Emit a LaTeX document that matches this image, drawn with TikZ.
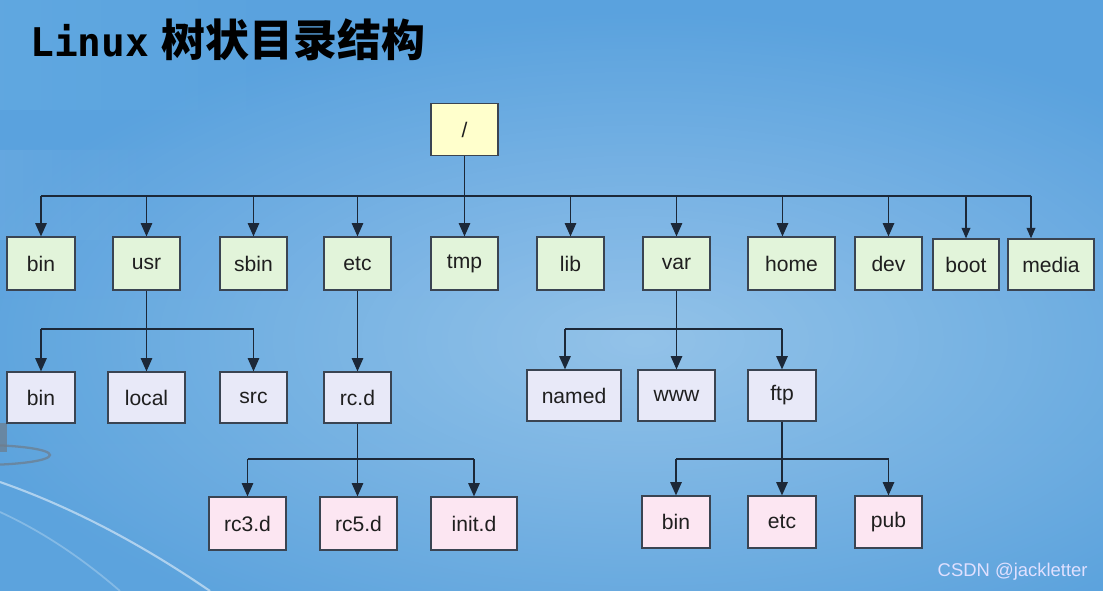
\documentclass[tikz,border=0pt]{standalone}
\usepackage{fontspec}
\setmainfont{Liberation Sans}
\newfontfamily\titlecjk{Noto Sans CJK SC}
\newfontfamily\titlemono{DejaVu Sans Mono}
\usetikzlibrary{arrows.meta,calc,fadings}
\definecolor{bgTop}{HTML}{5AA2DE}
\definecolor{bgMid}{HTML}{84C3EA}
\definecolor{bgBot}{HTML}{5CA3DD}
\definecolor{boxLine}{HTML}{3A4452}
\definecolor{linkLine}{HTML}{1C2838}
\definecolor{rootFill}{HTML}{FFFFCC}
\definecolor{topFill}{HTML}{E2F4DA}
\definecolor{midFill}{HTML}{E8E9F8}
\definecolor{lowFill}{HTML}{FCE6F2}
\definecolor{standGray}{HTML}{6E7C8A}
\tikzfading[name=softSpot, inner color=transparent!10, outer color=transparent!100]
\tikzfading[name=fadeRight, left color=transparent!20, right color=transparent!100]
\tikzset{
    boxw/.style={minimum width=#1*0.02cm},
    boxh/.style={minimum height=#1*0.02cm},
    dirBox/.style={draw=boxLine, line width=0.7pt, inner sep=0pt, boxh=53,
        text=black!88, font=\fontsize{12}{14}\selectfont},
    rootDir/.style={dirBox, fill=rootFill},
    topDir/.style={dirBox, fill=topFill},
    midDir/.style={dirBox, fill=midFill},
    lowDir/.style={dirBox, fill=lowFill},
    link/.style={draw=linkLine, line width=0.7pt},
    linkTo/.style={link, -{Triangle[width=6.5pt,length=7.5pt]}},
    linkToSmall/.style={link, -{Triangle[width=5pt,length=6pt]}}
}
\begin{document}
\begin{tikzpicture}[x=0.02cm, y=-0.02cm]
\useasboundingbox (0,0) rectangle (1103,591);
% background
\begin{scope}
    \clip (0,0) rectangle (1103,591);
    \shade[top color=bgTop, middle color=bgMid, bottom color=bgBot] (0,0) rectangle (1103,591);
    \fill[white, fill opacity=0.38, path fading=softSpot] (640,340) ellipse (700 and 330);
    \fill[cyan!40!white, fill opacity=0.12, path fading=fadeRight] (0,0) rectangle (300,110);
    \fill[white, fill opacity=0.08, path fading=fadeRight] (0,150) rectangle (150,240);
    \draw[white, opacity=0.5, line width=1.2pt] (0,482) .. controls (80,510) and (150,550) .. (210,591);
    \draw[white, opacity=0.25, line width=1pt] (0,512) .. controls (50,535) and (90,565) .. (120,591);
    \draw[standGray, opacity=0.7, line width=1.3pt] (-20,455) ellipse (70 and 10);
    \fill[standGray, opacity=0.7] (0,423) rectangle (7,452);
\end{scope}

\node[anchor=base west, inner sep=0pt] (title) at (30,57)
    {{\titlemono\bfseries\fontsize{22.5}{23}\selectfont Linux}\hspace{7pt}{\titlecjk\bfseries\fontsize{25}{25}\selectfont 树状目录结构}};

% directories
\node[rootDir, boxw=67, boxh=52] (root) at (464.5,129.5) {/};

\node[topDir, boxw=68] (bin1) at (41,263.5) {bin};
\node[topDir, boxw=67] (usr) at (146.5,263.5) {usr};
\node[topDir, boxw=67] (sbin) at (253.5,263.5) {sbin};
\node[topDir, boxw=67] (etc1) at (357.5,263.5) {etc};
\node[topDir, boxw=67] (tmp) at (464.5,263.5) {tmp};
\node[topDir, boxw=67] (lib) at (570.5,263.5) {lib};
\node[topDir, boxw=67] (var1) at (676.5,263.5) {var};
\node[topDir, boxw=87] (home) at (791.5,263.5) {home};
\node[topDir, boxw=67] (dev) at (888.5,263.5) {dev};
\node[topDir, boxw=66, boxh=51] (boot) at (966,264.5) {boot};
\node[topDir, boxw=86, boxh=51] (media) at (1051,264.5) {media};

\node[midDir, boxw=68, boxh=51] (bin2) at (41,397.5) {bin};
\node[midDir, boxw=77, boxh=51] (local) at (146.5,397.5) {local};
\node[midDir, boxw=67, boxh=51] (src) at (253.5,397.5) {src};
\node[midDir, boxw=67, boxh=51] (rcd) at (357.5,397.5) {rc.d};
\node[midDir, boxw=94, boxh=51] (named) at (574,395.5) {named};
\node[midDir, boxw=77, boxh=51] (www) at (676.5,395.5) {www};
\node[midDir, boxw=68, boxh=51] (ftp) at (782,395.5) {ftp};

\node[lowDir, boxw=77] (rc3) at (247.5,523.5) {rc3.d};
\node[lowDir, boxw=77] (rc5) at (358.5,523.5) {rc5.d};
\node[lowDir, boxw=86] (init) at (474,523.5) {init.d};
\node[lowDir, boxw=68, boxh=52] (bin3) at (676,522) {bin};
\node[lowDir, boxw=68, boxh=52] (etc3) at (782,522) {etc};
\node[lowDir, boxw=67, boxh=52] (pub) at (888.5,522) {pub};

% links
\coordinate (busTop) at (0,196);
\coordinate (homeIn) at ($(home.north)+(-9,0)$);
\coordinate (mediaIn) at ($(media.north)+(-20,0)$);
\draw[link] (root.south) -- (root.south |- busTop);
\draw[link] (busTop -| bin1) -- (busTop -| mediaIn);
\draw[link, line width=1.2pt] ($(busTop -| dev.west)+(-4,0)$) -- (busTop -| mediaIn);
\foreach \d in {bin1,usr,sbin,etc1,tmp,lib,var1,dev}
    \draw[linkTo] (busTop -| \d) -- (\d.north);
\draw[linkTo] (busTop -| homeIn) -- (homeIn);
\draw[linkToSmall] (busTop -| boot) -- (boot.north);
\draw[linkToSmall] (busTop -| mediaIn) -- (mediaIn);

\coordinate (busMid) at (0,329);
\coordinate (namedIn) at ($(named.north)+(-9,0)$);
\draw[linkTo] (usr.south) -- (local.north);
\draw[link] (busMid -| bin2) -- (busMid -| src);
\draw[linkTo] (busMid -| bin2) -- (bin2.north);
\draw[linkTo] (busMid -| src) -- (src.north);
\draw[linkTo] (etc1.south) -- (rcd.north);
\draw[linkTo] (var1.south) -- (www.north);
\draw[link] (busMid -| namedIn) -- (busMid -| ftp);
\draw[linkTo] (busMid -| namedIn) -- (namedIn);
\draw[linkTo] (busMid -| ftp) -- (ftp.north);

\coordinate (busLow) at (0,459);
\draw[linkTo] (rcd.south) -- (rcd.south |- rc5.north);
\draw[link] (busLow -| rc3) -- (busLow -| init);
\draw[linkTo] (busLow -| rc3) -- (rc3.north);
\draw[linkTo] (busLow -| init) -- (init.north);
\draw[linkTo] (ftp.south) -- (etc3.north);
\draw[link] (busLow -| bin3) -- (busLow -| pub);
\draw[linkTo] (busLow -| bin3) -- (bin3.north);
\draw[linkTo] (busLow -| pub) -- (pub.north);

\node[anchor=east, inner sep=0pt, text=white!88!blue, font=\fontsize{10.5}{12}\selectfont] (mark) at (1088,572) {CSDN @jackletter};
\end{tikzpicture}
\end{document}
